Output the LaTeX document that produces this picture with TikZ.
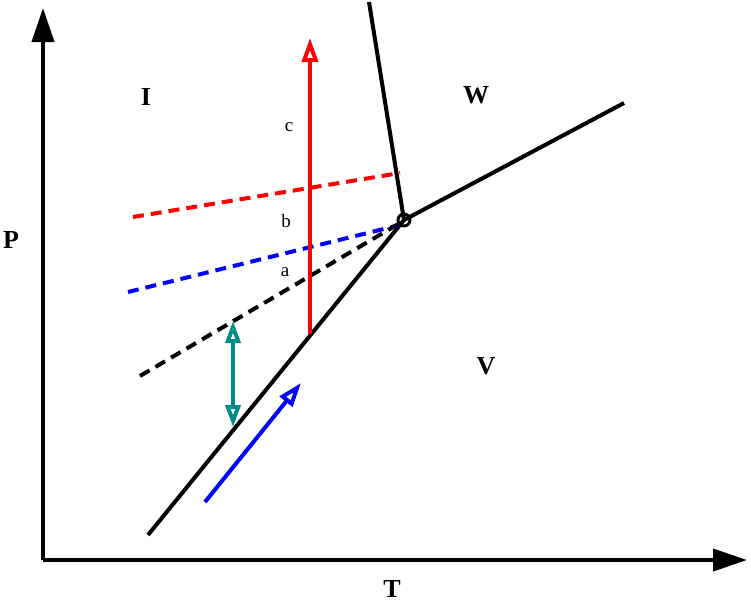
\documentclass[tikz,border=0pt]{standalone}
\usepackage{fontspec}
\setmainfont{Liberation Serif}
\usetikzlibrary{arrows.meta}
\definecolor{tealarrow}{RGB}{0,140,140}
\begin{document}
\begin{tikzpicture}[x=1pt,y=-1pt,
  curve/.style={line width=4pt, black},
  dline/.style={line width=4pt, dash pattern=on 11pt off 7pt},
  axis/.style={line width=4pt, -{Triangle[length=34pt,width=22pt]}},
  openarr/.style={line width=4pt, -{Triangle[open,length=24pt,width=16pt,fill=white]}},
  biglab/.style={font=\bfseries\fontsize{26}{28}\selectfont, inner sep=0pt},
  smalllab/.style={font=\fontsize{19}{21}\selectfont, inner sep=0pt}]
\useasboundingbox (0,0) rectangle (751,603);
% axes
\coordinate (O) at (43,560);
\coordinate (ytip) at (43,8);
\coordinate (xtip) at (747,560);
\draw[axis] (O) -- (ytip);
\draw[axis] (O) -- (xtip);
% phase lines
\coordinate (tp) at (404,220);
\coordinate (fus) at (369,2);
\coordinate (vap) at (624,103);
\coordinate (sub) at (148,535);
\draw[curve] (tp) -- (fus);
\draw[curve] (tp) -- (vap);
\draw[curve] (tp) -- (sub);
% dashed lines
\coordinate (r1) at (133,217); \coordinate (r2) at (400,173);
\coordinate (b1) at (128,292); \coordinate (b2) at (400,225);
\coordinate (k1) at (140,376); \coordinate (k2) at (400,223);
\draw[dline, red] (r1) -- (r2);
\draw[dline, blue] (b1) -- (b2);
\draw[dline, black] (k1) -- (k2);
\node[draw, circle, line width=3pt, minimum size=12pt, inner sep=0pt] (tpc) at (tp) {};
% red arrow
\coordinate (ra) at (310,334); \coordinate (rb) at (310,38);
\draw[openarr, red] (ra) -- (rb);
% teal double arrow
\coordinate (ta) at (233,321); \coordinate (tb) at (233,427);
\draw[line width=4pt, tealarrow, {Triangle[open,length=22pt,width=15pt,fill=white]}-{Triangle[open,length=22pt,width=15pt,fill=white]}] (ta) -- (tb);
% blue arrow
\coordinate (ba) at (205,502); \coordinate (bb) at (301,383);
\draw[openarr, blue] (ba) -- (bb);
% labels
\node[biglab] (lI) at (146,97) {I};
\node[biglab] (lW) at (476,95) {W};
\node[biglab] (lV) at (486,366) {V};
\node[biglab] (lP) at (11,240) {P};
\node[biglab] (lT) at (392,589) {T};
\node[smalllab] (la) at (285,272) {a};
\node[smalllab] (lb) at (286,221) {b};
\node[smalllab] (lc) at (289,127) {c};
\end{tikzpicture}
\end{document}
